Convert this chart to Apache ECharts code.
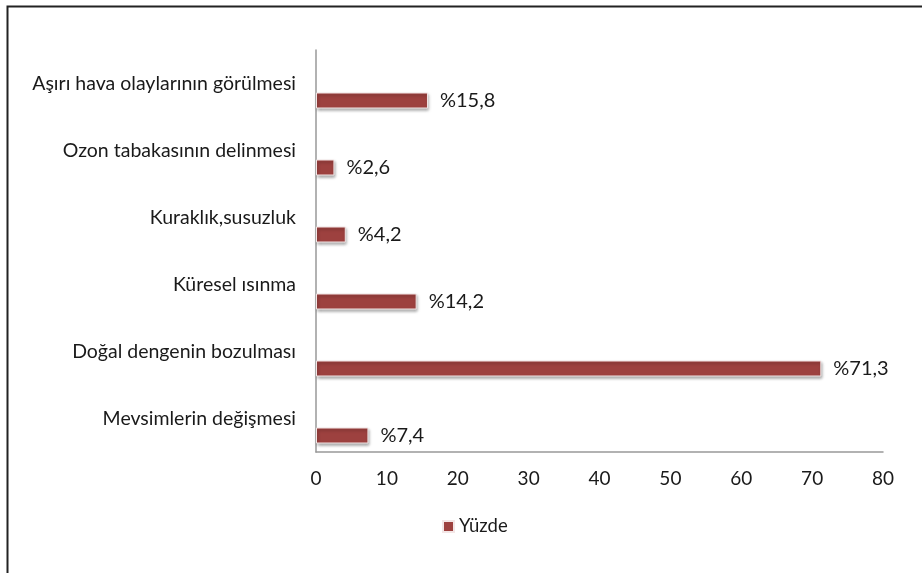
<!DOCTYPE html>
<html>
<head>
<meta charset="utf-8">
<script src="https://cdn.jsdelivr.net/npm/echarts@6/dist/echarts.min.js"></script>
<style>
html,body{margin:0;padding:0;background:#fff;}
#chart{width:922px;height:573px;}
</style>
</head>
<body>
<div id="chart"></div>
<script>
var categories = [
	'Aşırı hava olaylarının görülmesi',
	'Ozon tabakasının delinmesi',
	'Kuraklık,susuzluk',
	'Küresel ısınma',
	'Doğal dengenin bozulması',
	'Mevsimlerin değişmesi'
];
var values = [15.8, 2.6, 4.2, 14.2, 71.3, 7.4];
var valueLabels = ['%15,8', '%2,6', '%4,2', '%14,2', '%71,3', '%7,4'];
var empty = [null, null, null, null, null, null];

var font = 'Lato, "Open Sans", sans-serif';

var chart = echarts.init(document.getElementById('chart'));
chart.setOption({
	animation: false,
	textStyle: {fontFamily: font},
	graphic: [{
		type: 'polyline',
		shape: {points: [[7.5, 573], [7.5, 6.5], [922, 6.5]]},
		style: {stroke: '#222', lineWidth: 2, fill: null}
	}],
	legend: {
		data: ['Yüzde'],
		left: 437,
		top: 512,
		itemWidth: 11,
		itemHeight: 11,
		itemGap: 4,
		icon: 'rect',
		textStyle: {fontSize: 18.5, color: '#1a1a1a', fontFamily: font}
	},
	grid: {left: 316, right: 39, top: 50, bottom: 121, containLabel: false},
	xAxis: {
		type: 'value',
		min: 0,
		max: 80,
		interval: 10,
		splitLine: {show: false},
		axisLine: {show: true, lineStyle: {color: '#999', width: 1.5}},
		axisTick: {show: false},
		axisLabel: {fontSize: 19, color: '#1a1a1a', margin: 17}
	},
	yAxis: {
		type: 'category',
		inverse: true,
		data: categories,
		axisLine: {show: true, lineStyle: {color: '#999', width: 1.5}},
		axisTick: {show: false},
		axisLabel: {fontSize: 19.5, color: '#1a1a1a', margin: 20}
	},
	series: [{
		name: 'dummy',
		type: 'bar',
		data: empty,
		barWidth: 16,
		barGap: '112.5%'
	}, {
		name: 'Yüzde',
		type: 'bar',
		data: values,
		barWidth: 16,
		barGap: '112.5%',
		itemStyle: {
			color: '#9d413f',
			borderColor: '#f3e6e6',
			borderWidth: 1,
			shadowColor: 'rgba(0,0,0,0.35)',
			shadowBlur: 3,
			shadowOffsetX: 1,
			shadowOffsetY: 2
		},
		label: {
			show: true,
			position: 'right',
			distance: 12,
			fontSize: 20,
			color: '#1a1a1a',
			formatter: function (p) { return valueLabels[p.dataIndex]; }
		}
	}]
});
</script>
</body>
</html>
